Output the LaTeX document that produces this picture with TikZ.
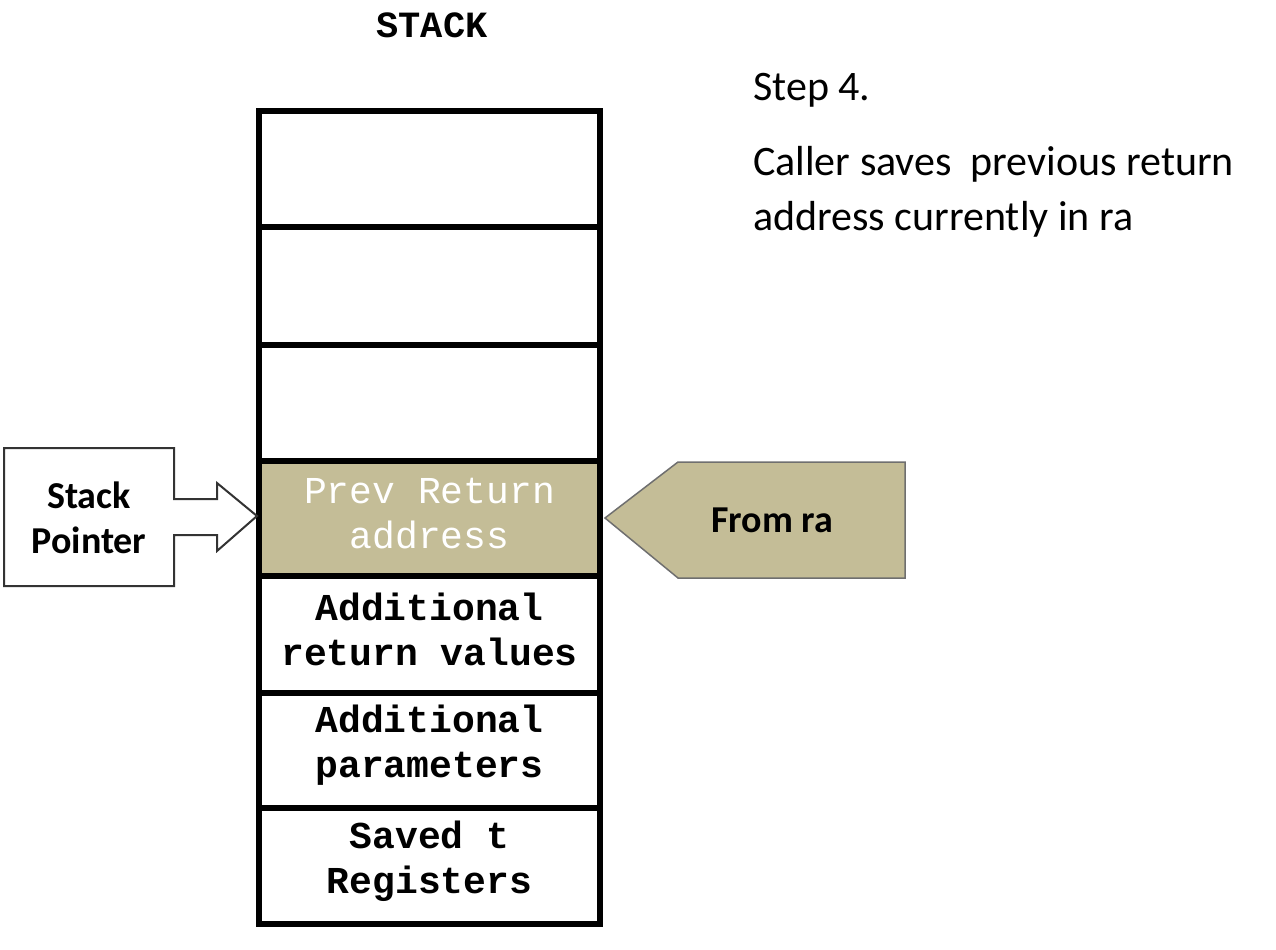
\documentclass[tikz,border=0pt]{standalone}
\usepackage{fontspec}
\setmainfont{Carlito}
\newfontfamily\monob{Liberation Mono}[BoldFont={Liberation Mono Bold}]
\definecolor{tan}{HTML}{C4BD97}
\definecolor{edgegray}{HTML}{6F6F6F}
\begin{document}
\begin{tikzpicture}[x=1bp,y=-1bp,
  cell/.style={draw=black, line width=6bp, minimum width=341bp, inner sep=0pt},
  celltext/.style={inner sep=0pt, align=center, yshift=5bp,
     font=\monob\bfseries\fontsize{38bp}{45bp}\selectfont},
  txt/.style={inner sep=0pt, align=left, font=\fontsize{42bp}{55bp}\selectfont},
  lbl/.style={inner sep=0pt, align=center, font=\bfseries\fontsize{38bp}{45bp}\selectfont}]
\useasboundingbox (0,0) rectangle (1276,950);
% title
\node[inner sep=0pt, font=\monob\bfseries\fontsize{37bp}{45bp}\selectfont] (title) at (432,25) {STACK};
% stack cells
\node[cell, minimum height=116bp] (c1) at (429.5,169) {};
\node[cell, minimum height=118bp] (c2) at (429.5,286) {};
\node[cell, minimum height=116bp] (c3) at (429.5,403) {};
\node[cell, minimum height=115bp, fill=tan] (c4) at (429.5,518.5) {};
\node[cell, minimum height=117bp] (c5) at (429.5,634.5) {};
\node[cell, minimum height=115bp] (c6) at (429.5,750.5) {};
\node[cell, minimum height=116bp] (c7) at (429.5,866) {};
\node[celltext, text=white, font=\monob\fontsize{38bp}{45bp}\selectfont] (t4) at (c4.center) {Prev Return\\address};
\node[celltext] (t5) at (c5.center) {Additional\\return values};
\node[celltext] (t6) at (c6.center) {Additional\\parameters};
\node[celltext] (t7) at (c7.center) {Saved t\\Registers};
% stack pointer callout
\draw[line width=2bp, draw=black!80, fill=white, line join=miter]
  (4,448) -- (174,448) -- (174,499) -- (217,499) -- (217,483) -- (257,516) -- (217,551) -- (217,535) -- (174,535) -- (174,586) -- (4,586) -- cycle;
\node[lbl] (sp) at (89,518) {Stack\\Pointer};
% from ra callout
\draw[line width=1.5bp, draw=edgegray, fill=tan]
  (605,518) -- (678,462) -- (905,462) -- (905,578) -- (678,578) -- cycle;
\node[lbl] (fr) at (772,520) {From ra};
% right text
\node[txt, anchor=base west] (step) at (753,100) {Step 4.};
\node[txt, anchor=base west] (desc) at (753,230) {Caller saves\ \ previous return\\address currently in ra};
\end{tikzpicture}
\end{document}
